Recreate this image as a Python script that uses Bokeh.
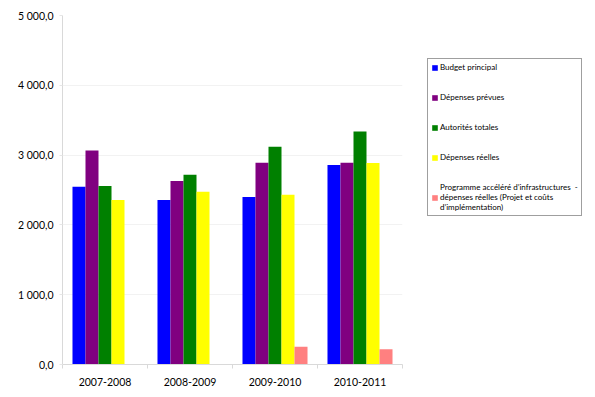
from bokeh.plotting import figure
from bokeh.models import ColumnDataSource, FixedTicker, Legend, LegendItem
from bokeh.transform import dodge
from bokeh.embed import file_html
from bokeh.resources import INLINE

years = ["2007-2008", "2008-2009", "2009-2010", "2010-2011"]
budget_principal = [2547, 2357, 2400, 2857]
depenses_prevues = [3067, 2628, 2890, 2890]
autorites_totales = [2557, 2719, 3119, 3338]
depenses_reelles = [2357, 2476, 2433, 2886]
programme_accelere = [0, 0, 253, 219]

series_keys = ["bp", "dp", "at", "dr", "pa"]
series_names = [
    "Budget principal",
    "Dépenses prévues",
    "Autorités totales",
    "Dépenses réelles",
    "Programme accéléré d’infrastructures  -\ndépenses réelles (Projet et coûts\nd’implémentation)",
]
colors = ["#0000FF", "#800080", "#008000", "#FFFF00", "#FF8080"]

y_ticks = [0, 1000, 2000, 3000, 4000, 5000]
y_tick_labels = ["0,0", "1 000,0", "2 000,0", "3 000,0", "4 000,0", "5 000,0"]

x_pos = [i + 0.5 for i in range(len(years))]
source = ColumnDataSource(dict(
    x=x_pos,
    bp=budget_principal,
    dp=depenses_prevues,
    at=autorites_totales,
    dr=depenses_reelles,
    pa=programme_accelere,
))

p = figure(x_range=(0, 4), y_range=(0, 5000),
           frame_width=340, frame_height=349,
           output_backend="svg", toolbar_location=None)
p.min_border_left = 62
p.min_border_top = 15
p.min_border_bottom = 33
p.min_border_right = 193
p.outline_line_color = None
p.background_fill_color = "white"
p.border_fill_color = "white"

bar_w = 0.153
offsets = [-2 * bar_w, -bar_w, 0, bar_w, 2 * bar_w]
items = []
for key, name, col, off in zip(series_keys, series_names, colors, offsets):
    r = p.vbar(x=dodge("x", off), top=key, width=bar_w, source=source,
               fill_color=col, line_color=None)
    items.append(LegendItem(label=name, renderers=[r]))

# axes
p.xaxis.ticker = FixedTicker(ticks=x_pos, minor_ticks=[0, 1, 2, 3, 4])
p.xaxis.major_label_overrides = {x: y for x, y in zip(x_pos, years)}
p.xaxis.major_tick_out = 0
p.xaxis.major_tick_in = 0
p.xaxis.minor_tick_out = 4
p.xaxis.minor_tick_in = 0
p.xaxis.minor_tick_line_color = "#d9d9d9"
p.xaxis.axis_line_color = "#d9d9d9"
p.xaxis.major_label_text_font = "Lato"
p.xaxis.major_label_text_font_size = "10.5px"
p.xaxis.major_label_text_color = "black"
p.xaxis.major_label_standoff = 9

p.yaxis.ticker = FixedTicker(ticks=y_ticks)
p.yaxis.major_label_overrides = {t: l for t, l in zip(y_ticks, y_tick_labels)}
p.yaxis.major_tick_out = 3
p.yaxis.major_tick_in = 0
p.yaxis.minor_tick_line_color = None
p.yaxis.major_tick_line_color = "#e6e6e6"
p.yaxis.axis_line_color = "#d9d9d9"
p.yaxis.major_label_text_font = "Lato"
p.yaxis.major_label_text_font_size = "10.5px"
p.yaxis.major_label_text_color = "black"
p.yaxis.major_label_standoff = 6

p.xgrid.grid_line_color = None
p.ygrid.grid_line_color = "#f2f2f2"

legend = Legend(items=items, location=(25, 148))
legend.border_line_color = "#404040"
legend.border_line_width = 1
legend.background_fill_color = "white"
legend.label_text_font = "Lato"
legend.label_text_font_size = "8px"
legend.label_text_color = "black"
legend.glyph_width = 7
legend.glyph_height = 7
legend.label_height = 10
legend.label_standoff = 2
legend.spacing = 20
legend.padding = 3
legend.margin = 0
p.add_layout(legend, "right")

open("out.html", "w").write(file_html(p, INLINE))
